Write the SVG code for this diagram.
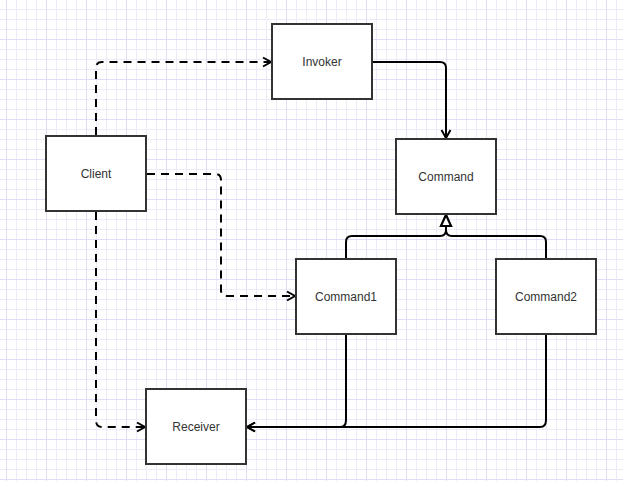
<svg xmlns="http://www.w3.org/2000/svg" width="623" height="481" viewBox="0 0 623 481">
  <style>
    .box { fill: #ffffff; stroke: #333333; stroke-width: 2; }
    .label { font-family: "Liberation Sans", Arial, sans-serif; font-size: 12px; fill: #333333; text-anchor: middle; dominant-baseline: central; }
    .edge { fill: none; stroke: #000000; stroke-width: 2; stroke-linejoin: round; }
    .dashed { stroke-dasharray: 8 6; }
  </style>
  <defs>
    <pattern id="gridMinor" patternUnits="userSpaceOnUse" x="6" y="9" width="10" height="10">
      <path d="M0.5 0 V10 M0 0.5 H10" fill="none" stroke="#ebebfa" stroke-width="1"/>
    </pattern>
    <pattern id="gridMajor" patternUnits="userSpaceOnUse" x="6" y="39" width="40" height="40">
      <path d="M0.5 0 V40 M0 0.5 H40" fill="none" stroke="#dedef6" stroke-width="1"/>
    </pattern>
    <marker id="openArrow" markerUnits="userSpaceOnUse" markerWidth="12" markerHeight="12" refX="9" refY="5" orient="auto" overflow="visible">
      <path d="M1 0.5 L9 5 L1 9.5" fill="none" stroke="#000000" stroke-width="2" stroke-linejoin="miter"/>
    </marker>
    <marker id="hollowTriangle" markerUnits="userSpaceOnUse" markerWidth="14" markerHeight="14" refX="0" refY="0" orient="auto" overflow="visible">
      <path d="M0 -5 L11 0 L0 5 Z" fill="#ffffff" stroke="#000000" stroke-width="2" stroke-linejoin="miter"/>
    </marker>
  </defs>

  <!-- background grid -->
  <rect width="623" height="481" fill="#ffffff"/>
  <rect width="623" height="481" fill="url(#gridMinor)"/>
  <rect width="623" height="481" fill="url(#gridMajor)"/>

  <g id="connectors">
    <!-- Client -> Invoker -->
    <path class="edge dashed" d="M96 135 V68 Q96 62 102 62 H271" marker-end="url(#openArrow)"/>
    <!-- Client -> Command1 -->
    <path class="edge dashed" d="M147 174 H215 Q221 174 221 180 V290 Q221 296 227 296 H295" marker-end="url(#openArrow)"/>
    <!-- Client -> Receiver -->
    <path class="edge dashed" d="M96 212 V420 Q96 427 102 427 H145" marker-end="url(#openArrow)"/>
    <!-- Invoker -> Command -->
    <path class="edge" d="M373 62 H440 Q446 62 446 68 V138" marker-end="url(#openArrow)"/>
    <!-- Command1 -> Command (generalization) -->
    <path class="edge" d="M346 258 V242 Q346 236 352 236 H440 Q446 236 446 230 V226" marker-end="url(#hollowTriangle)"/>
    <!-- Command2 -> Command (generalization) -->
    <path class="edge" d="M546 258 V242 Q546 236 540 236 H452 Q446 236 446 230 V226" marker-end="url(#hollowTriangle)"/>
    <!-- Command1 -> Receiver -->
    <path class="edge" d="M346 335 V420 Q346 427 340 427 H247" marker-end="url(#openArrow)"/>
    <!-- Command2 -> Receiver -->
    <path class="edge" d="M546 335 V420 Q546 427 540 427 H247" marker-end="url(#openArrow)"/>
  </g>

  <g id="invoker">
    <rect class="box" x="272" y="24" width="100" height="75"/>
    <text class="label" x="322" y="62">Invoker</text>
  </g>
  <g id="client">
    <rect class="box" x="46" y="136" width="100" height="75"/>
    <text class="label" x="96" y="174">Client</text>
  </g>
  <g id="command">
    <rect class="box" x="396" y="139" width="100" height="75"/>
    <text class="label" x="446" y="177">Command</text>
  </g>
  <g id="command1">
    <rect class="box" x="296" y="259" width="100" height="75"/>
    <text class="label" x="346" y="297">Command1</text>
  </g>
  <g id="command2">
    <rect class="box" x="496" y="259" width="100" height="75"/>
    <text class="label" x="546" y="297">Command2</text>
  </g>
  <g id="receiver">
    <rect class="box" x="146" y="389" width="100" height="75"/>
    <text class="label" x="196" y="427">Receiver</text>
  </g>
</svg>
